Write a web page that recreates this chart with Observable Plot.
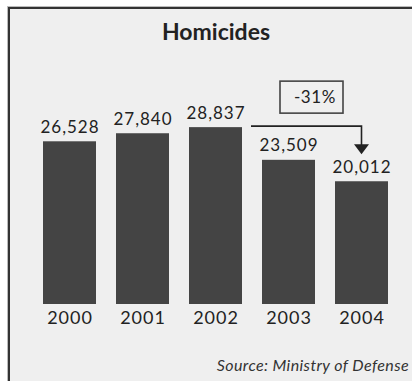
<!DOCTYPE html>
<html>
<head>
<meta charset="utf-8">
<script src="https://cdn.jsdelivr.net/npm/d3@7"></script>
<script src="https://cdn.jsdelivr.net/npm/@observablehq/plot@0.6"></script>
<style>
  html, body { margin: 0; padding: 0; background: #efefef; overflow: hidden; }
  #wrap { position: relative; width: 100vw; height: 100vh; overflow: hidden; background: #efefef; }
  .edge { position: absolute; }
  #outerTop { left: 0; top: 0; width: 100%; height: 6px; background: #fff; }
  #outerLeft { left: 0; top: 0; width: 7px; height: 100%; background: #fff; }
  #shadowTop { left: 7px; top: 6px; width: 100%; height: 1px; background: #bbb; }
  #shadowLeft { left: 7px; top: 6px; width: 1px; height: 100%; background: #bbb; }
  #borderTop { left: 8px; top: 7px; width: 100%; height: 2px; background: #333; }
  #borderLeft { left: 8px; top: 7px; width: 2px; height: 100%; background: #333; }
  #inner { position: absolute; left: 10px; top: 9px; width: 402px; }
  #title {
    box-sizing: border-box; height: 51px; padding-top: 11px; padding-left: 10px;
    font: bold 23px/23px Lato, sans-serif; color: #222; text-align: center;
  }
  #source {
    margin-top: 23px; padding-right: 3px; text-align: right; letter-spacing: 0.4px;
    font: italic 16px/16px Lato, sans-serif; color: #333;
  }
</style>
</head>
<body>
<div id="wrap">
  <div class="edge" id="outerTop"></div><div class="edge" id="outerLeft"></div>
  <div class="edge" id="shadowTop"></div><div class="edge" id="shadowLeft"></div>
  <div class="edge" id="borderTop"></div><div class="edge" id="borderLeft"></div>
  <div id="inner">
    <div id="title">Homicides</div>
    <div id="chart"></div>
    <div id="source">Source: Ministry of Defense</div>
  </div>
</div>
<script>
const years = ["2000", "2001", "2002", "2003", "2004"];
const homicides = [26528, 27840, 28837, 23509, 20012];
const changeLabel = "-31%";
const changeFrom = "2002";
const changeTo = "2004";

const data = years.map((year, i) => ({year, value: homicides[i]}));
const fmt = d3.format(",");

function changeArrow(index, scales) {
  const x = scales.x, y = scales.y, bw = x.bandwidth();
  const fromVal = homicides[years.indexOf(changeFrom)];
  const toVal = homicides[years.indexOf(changeTo)];
  const x0 = x(changeFrom) + bw + 9;
  const x1 = x(changeTo) + bw / 2;
  const ly = y(fromVal) - 1;
  const tip = y(toVal) - 27;
  const g = d3.create("svg:g");
  g.append("path")
    .attr("d", `M${x0},${ly}H${x1}V${tip - 9}`)
    .attr("fill", "none").attr("stroke", "#222").attr("stroke-width", 1.6);
  g.append("path")
    .attr("d", `M${x1 - 7.5},${tip - 10}L${x1 + 7.5},${tip - 10}L${x1},${tip}Z`)
    .attr("fill", "#222");
  const bx = x(years[years.indexOf(changeFrom) + 1]) + 18;
  const bw2 = 63, bh = 32, by = ly - 13 - bh;
  g.append("rect")
    .attr("x", bx).attr("y", by).attr("width", bw2).attr("height", bh)
    .attr("fill", "none").attr("stroke", "#444").attr("stroke-width", 1.6);
  g.append("text")
    .attr("x", bx + bw2 - 7).attr("y", by + bh - 10)
    .attr("text-anchor", "end").attr("font-size", 17).attr("fill", "#222")
    .attr("letter-spacing", "0.6px")
    .text(changeLabel);
  return g.node();
}

const chart = Plot.plot({
  width: 402,
  height: 274,
  marginLeft: 13,
  marginRight: 3,
  marginTop: 60,
  marginBottom: 30,
  style: {background: "transparent", fontFamily: "Lato, sans-serif", fontSize: "18px", color: "#222", overflow: "visible", letterSpacing: "1px"},
  x: {domain: years, padding: 0.27, label: null, tickSize: 0, tickPadding: 7},
  y: {domain: [0, 30000], axis: null},
  marks: [
    Plot.barY(data, {x: "year", y: "value", fill: "#444"}),
    Plot.text(data, {x: "year", y: "value", text: d => fmt(d.value), dy: -9, lineAnchor: "bottom", fontSize: 17, fill: "#222"}),
    changeArrow
  ]
});
document.getElementById("chart").appendChild(chart);
</script>
</body>
</html>
